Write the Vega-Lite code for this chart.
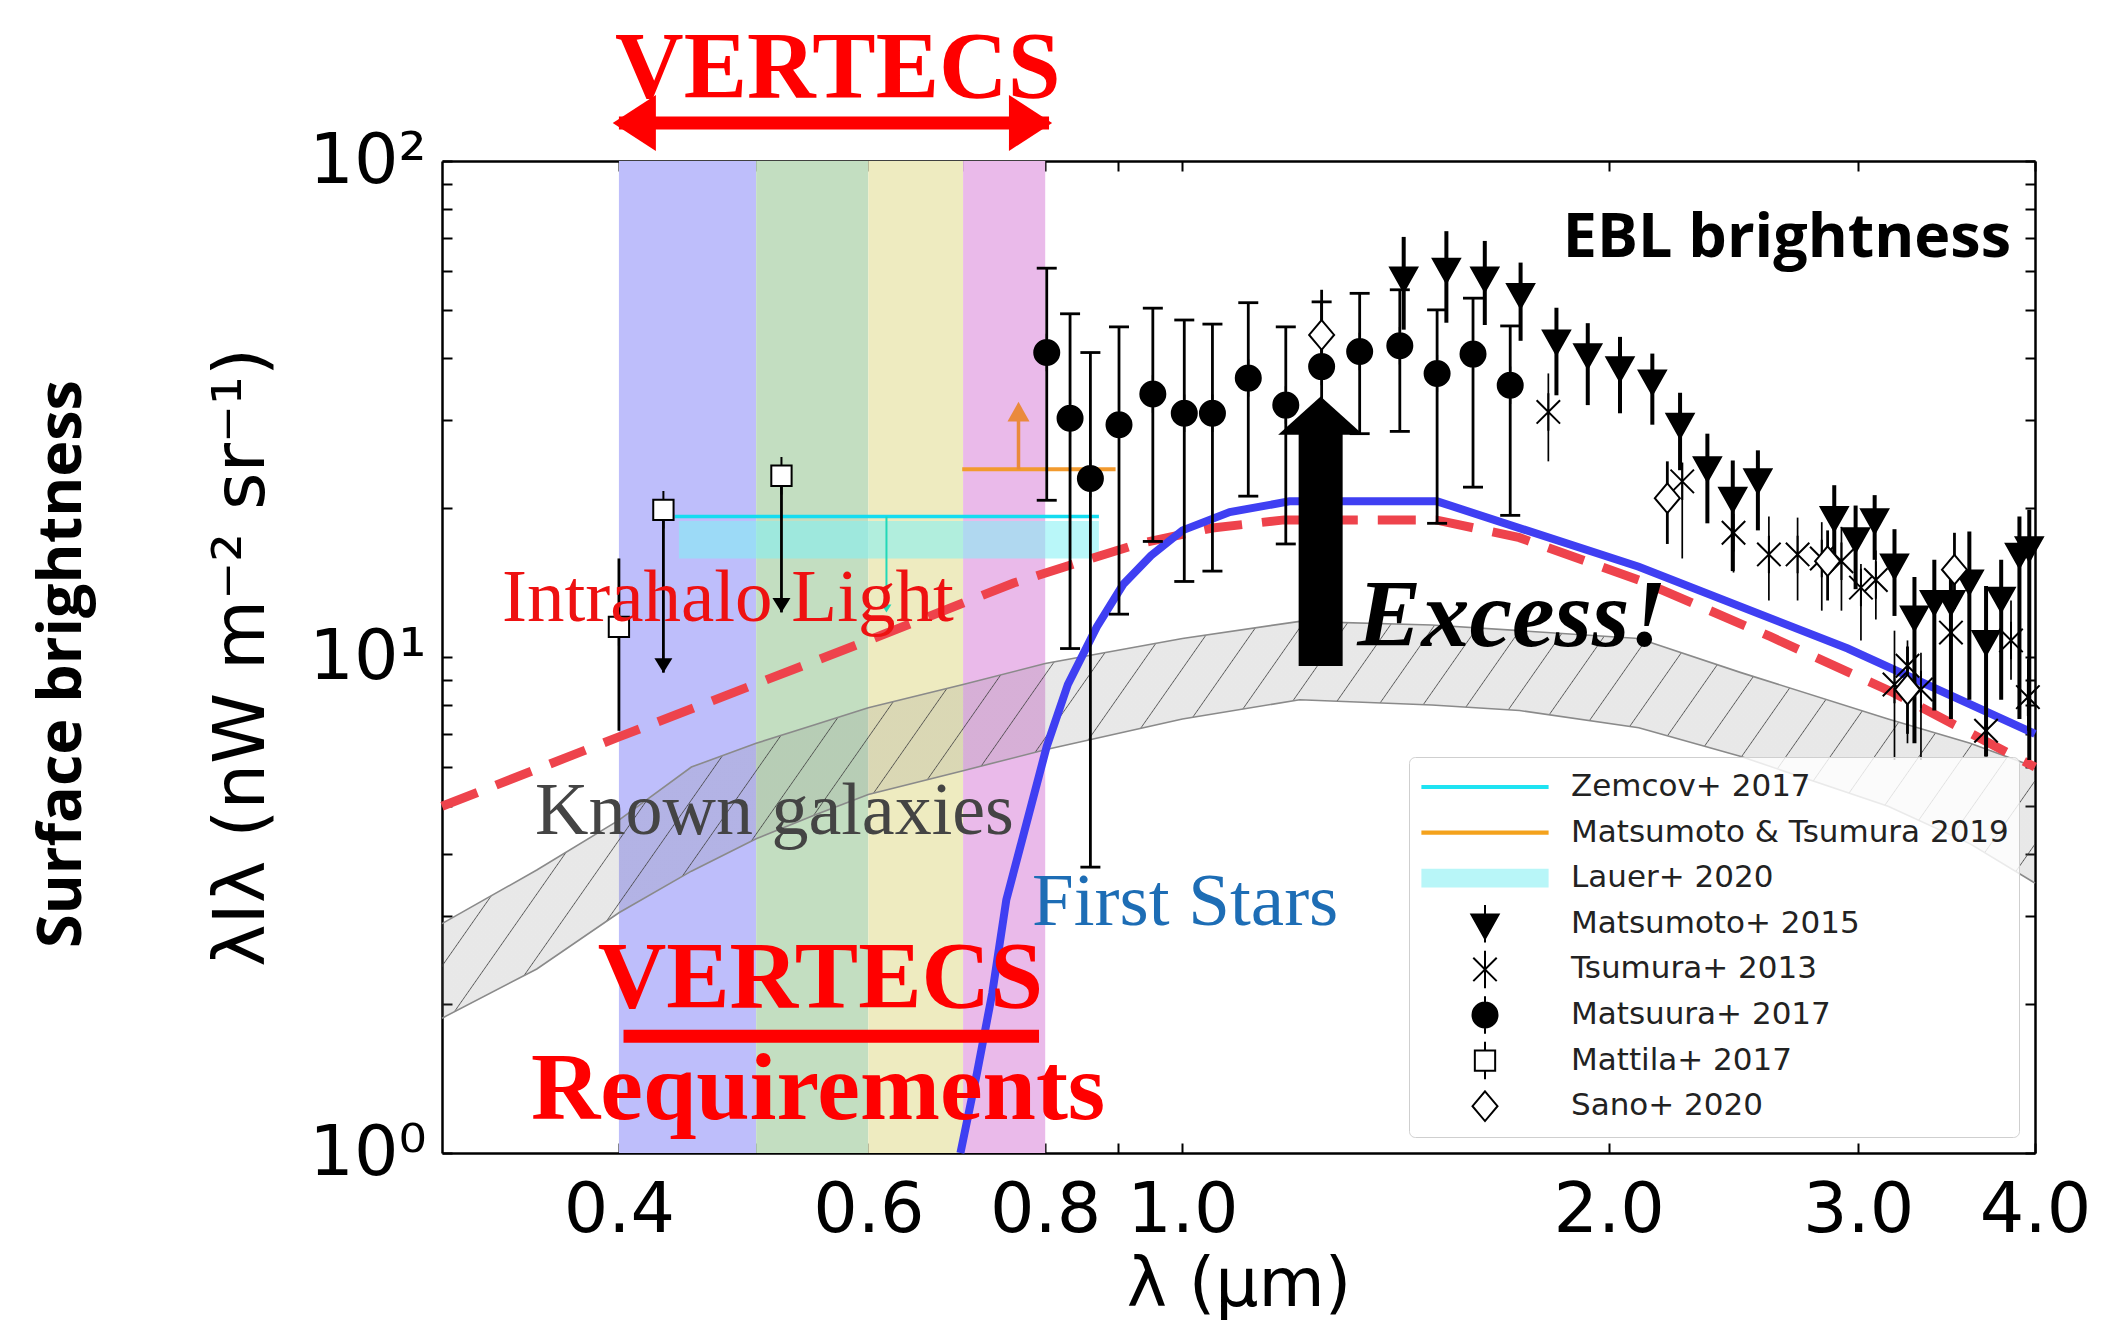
{
"$schema": "https://vega.github.io/schema/vega-lite/v6.json",
"width": 1593, "height": 992,
"autosize": {"type": "none"},
"padding": {"left": 442, "top": 161, "right": 67, "bottom": 175},
"background": "white",
"config": {
  "view": {"stroke": null},
  "axis": {"domainColor": "#000", "domainWidth": 2.5, "tickColor": "#000", "tickWidth": 2, "grid": false,
    "labelFont": "DejaVu Sans", "titleFont": "DejaVu Sans", "labelColor": "#000", "titleColor": "#000", "titleFontWeight": "normal"}
},
"datasets": {
  "bands": [
    {"b": "blue", "x1": 0.4, "x2": 0.5},
    {"b": "green", "x1": 0.5, "x2": 0.6},
    {"b": "yellow", "x1": 0.6, "x2": 0.7},
    {"b": "magenta", "x1": 0.7, "x2": 0.8}
  ],
  "gal": [
    {"lam": 0.30, "lo": 1.87, "hi": 2.9}, {"lam": 0.35, "lo": 2.35, "hi": 3.72}, {"lam": 0.40, "lo": 3.05, "hi": 4.69},
    {"lam": 0.45, "lo": 3.7, "hi": 6.0}, {"lam": 0.50, "lo": 4.3, "hi": 6.7}, {"lam": 0.55, "lo": 4.8, "hi": 7.3},
    {"lam": 0.60, "lo": 5.28, "hi": 7.9}, {"lam": 0.70, "lo": 5.9, "hi": 8.8}, {"lam": 0.80, "lo": 6.5, "hi": 9.7},
    {"lam": 1.00, "lo": 7.5, "hi": 10.9}, {"lam": 1.21, "lo": 8.2, "hi": 11.8}, {"lam": 1.50, "lo": 8.0, "hi": 11.6},
    {"lam": 1.73, "lo": 7.8, "hi": 11.3}, {"lam": 2.10, "lo": 7.2, "hi": 10.9}, {"lam": 2.48, "lo": 6.3, "hi": 9.3},
    {"lam": 3.15, "lo": 5.0, "hi": 7.5}, {"lam": 3.60, "lo": 4.2, "hi": 6.7}, {"lam": 4.00, "lo": 3.5, "hi": 6.0}
  ],
  "ihl": [
    {"lam": 0.30, "v": 5.0}, {"lam": 0.40, "v": 6.9}, {"lam": 0.60, "v": 10.8}, {"lam": 0.76, "v": 14.1},
    {"lam": 0.93, "v": 16.9}, {"lam": 1.05, "v": 18.2}, {"lam": 1.18, "v": 18.9}, {"lam": 1.51, "v": 18.9},
    {"lam": 1.73, "v": 17.4}, {"lam": 2.10, "v": 14.3}, {"lam": 2.60, "v": 11.0}, {"lam": 3.17, "v": 8.5}, {"lam": 4.00, "v": 6.0}
  ],
  "fstars": [
    {"lam": 0.697, "v": 1.0}, {"lam": 0.716, "v": 1.45}, {"lam": 0.734, "v": 2.1}, {"lam": 0.751, "v": 3.24},
    {"lam": 0.802, "v": 6.6}, {"lam": 0.83, "v": 8.8}, {"lam": 0.87, "v": 11.5}, {"lam": 0.908, "v": 14.0},
    {"lam": 0.95, "v": 16.0}, {"lam": 1.0, "v": 18.0}, {"lam": 1.08, "v": 19.6}, {"lam": 1.19, "v": 20.6},
    {"lam": 1.513, "v": 20.6}, {"lam": 2.1, "v": 15.2}, {"lam": 2.95, "v": 10.4}, {"lam": 4.0, "v": 7.0}
  ],
  "points": [
    {"series": "Matsuura+ 2017", "lam": 0.802, "v": 41.1, "lo": 20.7, "hi": 60.8},
    {"series": "Matsuura+ 2017", "lam": 0.833, "v": 30.3, "lo": 10.4, "hi": 49.2},
    {"series": "Matsuura+ 2017", "lam": 0.861, "v": 22.9, "lo": 3.77, "hi": 41.1},
    {"series": "Matsuura+ 2017", "lam": 0.902, "v": 29.4, "lo": 12.2, "hi": 46.3},
    {"series": "Matsuura+ 2017", "lam": 0.953, "v": 33.9, "lo": 17.1, "hi": 50.5},
    {"series": "Matsuura+ 2017", "lam": 1.003, "v": 31.0, "lo": 14.2, "hi": 47.8},
    {"series": "Matsuura+ 2017", "lam": 1.05, "v": 31.0, "lo": 14.9, "hi": 46.9},
    {"series": "Matsuura+ 2017", "lam": 1.113, "v": 36.5, "lo": 21.1, "hi": 51.8},
    {"series": "Matsuura+ 2017", "lam": 1.183, "v": 32.2, "lo": 16.9, "hi": 46.3},
    {"series": "Matsuura+ 2017", "lam": 1.254, "v": 38.5, "lo": 25.0, "hi": 52.0},
    {"series": "Matsuura+ 2017", "lam": 1.334, "v": 41.3, "lo": 28.2, "hi": 54.1},
    {"series": "Matsuura+ 2017", "lam": 1.424, "v": 42.4, "lo": 28.5, "hi": 55.0},
    {"series": "Matsuura+ 2017", "lam": 1.513, "v": 37.3, "lo": 18.6, "hi": 50.1},
    {"series": "Matsuura+ 2017", "lam": 1.604, "v": 40.8, "lo": 22.0, "hi": 52.9},
    {"series": "Matsuura+ 2017", "lam": 1.704, "v": 35.3, "lo": 19.3, "hi": 46.5},
    {"series": "Matsumoto+ 2015", "lam": 1.433, "v": 58.4, "lo": 45.7, "hi": 70.3},
    {"series": "Matsumoto+ 2015", "lam": 1.536, "v": 60.8, "lo": 47.2, "hi": 72.2},
    {"series": "Matsumoto+ 2015", "lam": 1.635, "v": 58.4, "lo": 46.7, "hi": 69.0},
    {"series": "Matsumoto+ 2015", "lam": 1.733, "v": 54.1, "lo": 43.4, "hi": 62.4},
    {"series": "Matsumoto+ 2015", "lam": 1.837, "v": 43.6, "lo": 33.7, "hi": 50.6},
    {"series": "Matsumoto+ 2015", "lam": 1.933, "v": 40.9, "lo": 32.2, "hi": 47.1},
    {"series": "Matsumoto+ 2015", "lam": 2.037, "v": 38.5, "lo": 31.0, "hi": 44.2},
    {"series": "Matsumoto+ 2015", "lam": 2.147, "v": 36.2, "lo": 29.4, "hi": 40.9},
    {"series": "Matsumoto+ 2015", "lam": 2.246, "v": 29.6, "lo": 23.8, "hi": 34.1},
    {"series": "Matsumoto+ 2015", "lam": 2.348, "v": 24.2, "lo": 18.6, "hi": 28.2},
    {"series": "Matsumoto+ 2015", "lam": 2.447, "v": 21.0, "lo": 14.9, "hi": 24.9},
    {"series": "Matsumoto+ 2015", "lam": 2.549, "v": 22.9, "lo": 18.0, "hi": 26.1},
    {"series": "Matsumoto+ 2015", "lam": 2.886, "v": 19.2, "lo": 15.7, "hi": 22.2},
    {"series": "Matsumoto+ 2015", "lam": 2.988, "v": 17.4, "lo": 13.7, "hi": 20.2},
    {"series": "Matsumoto+ 2015", "lam": 3.082, "v": 19.0, "lo": 15.7, "hi": 21.2},
    {"series": "Matsumoto+ 2015", "lam": 3.183, "v": 15.4, "lo": 12.1, "hi": 18.1},
    {"series": "Matsumoto+ 2015", "lam": 3.288, "v": 12.1, "lo": 6.7, "hi": 14.5},
    {"series": "Matsumoto+ 2015", "lam": 3.396, "v": 13.0, "lo": 7.8, "hi": 15.7},
    {"series": "Matsumoto+ 2015", "lam": 3.489, "v": 13.0, "lo": 7.5, "hi": 15.7},
    {"series": "Matsumoto+ 2015", "lam": 3.595, "v": 14.3, "lo": 8.2, "hi": 17.9},
    {"series": "Matsumoto+ 2015", "lam": 3.694, "v": 10.8, "lo": 6.3, "hi": 13.9},
    {"series": "Matsumoto+ 2015", "lam": 3.786, "v": 13.2, "lo": 8.2, "hi": 15.7},
    {"series": "Matsumoto+ 2015", "lam": 3.900, "v": 16.2, "lo": 7.5, "hi": 19.2},
    {"series": "Matsumoto+ 2015", "lam": 3.963, "v": 16.7, "lo": 6.2, "hi": 19.8},
    {"series": "Tsumura+ 2013", "lam": 1.813, "v": 31.2, "lo": 24.8, "hi": 37.3},
    {"series": "Tsumura+ 2013", "lam": 2.254, "v": 22.6, "lo": 15.8, "hi": 24.6},
    {"series": "Tsumura+ 2013", "lam": 2.450, "v": 17.8, "lo": 14.8, "hi": 20.1},
    {"series": "Tsumura+ 2013", "lam": 2.595, "v": 16.1, "lo": 13.0, "hi": 19.2},
    {"series": "Tsumura+ 2013", "lam": 2.719, "v": 16.1, "lo": 13.0, "hi": 19.1},
    {"series": "Tsumura+ 2013", "lam": 2.828, "v": 15.8, "lo": 12.4, "hi": 18.7},
    {"series": "Tsumura+ 2013", "lam": 2.920, "v": 15.6, "lo": 12.4, "hi": 18.3},
    {"series": "Tsumura+ 2013", "lam": 3.014, "v": 13.8, "lo": 10.8, "hi": 15.4},
    {"series": "Tsumura+ 2013", "lam": 3.088, "v": 14.3, "lo": 11.9, "hi": 16.4},
    {"series": "Tsumura+ 2013", "lam": 3.183, "v": 8.8, "lo": 6.2, "hi": 11.3},
    {"series": "Tsumura+ 2013", "lam": 3.251, "v": 9.6, "lo": 6.7, "hi": 10.8},
    {"series": "Tsumura+ 2013", "lam": 3.323, "v": 8.6, "lo": 6.2, "hi": 10.2},
    {"series": "Tsumura+ 2013", "lam": 3.489, "v": 11.2, "lo": 9.0, "hi": 13.0},
    {"series": "Tsumura+ 2013", "lam": 3.694, "v": 7.1, "lo": 6.3, "hi": 8.6},
    {"series": "Tsumura+ 2013", "lam": 3.847, "v": 10.8, "lo": 9.0, "hi": 13.0},
    {"series": "Tsumura+ 2013", "lam": 3.954, "v": 8.3, "lo": 7.1, "hi": 9.9},
    {"series": "Mattila+ 2017", "lam": 0.400, "v": 11.5, "lo": 7.1, "hi": 15.8},
    {"series": "Mattila+ 2017", "lam": 0.430, "v": 19.8, "lo": 9.3, "hi": 19.8},
    {"series": "Mattila+ 2017", "lam": 0.521, "v": 23.2, "lo": 12.3, "hi": 23.2},
    {"series": "Sano+ 2020", "lam": 1.254, "v": 44.6, "lo": 40.0, "hi": 55.0},
    {"series": "Sano+ 2020", "lam": 2.200, "v": 20.9, "lo": 16.9, "hi": 24.8},
    {"series": "Sano+ 2020", "lam": 2.855, "v": 15.6, "lo": 13.0, "hi": 18.0},
    {"series": "Sano+ 2020", "lam": 3.251, "v": 8.6, "lo": 7.0, "hi": 10.5},
    {"series": "Sano+ 2020", "lam": 3.509, "v": 15.0, "lo": 12.5, "hi": 17.8}
  ]
},
"resolve": {"axis": {"x": "independent", "y": "independent"}},
"layer": [
  {
    "data": {"name": "bands"},
    "mark": {"type": "rect"},
    "encoding": {
      "x": {"field": "x1", "type": "quantitative", "scale": {"type": "log", "domain": [0.3, 4], "nice": false},
        "axis": {"orient": "bottom", "values": [0.4, 0.5, 0.6, 0.7, 0.8, 0.9, 1, 2, 3, 4],
          "labelExpr": "(datum.value == 0.5 || datum.value == 0.7 || datum.value == 0.9) ? '' : format(datum.value, '.1f')",
          "labelFontSize": 70, "labelPadding": 33, "tickSize": -10, "labelOverlap": false, "labelFlush": false,
          "title": "λ (μm)", "titleFontSize": 68, "titlePadding": 6}},
      "x2": {"field": "x2"},
      "y": {"datum": 1, "type": "quantitative", "scale": {"type": "log", "domain": [1, 100], "nice": false},
        "axis": {"orient": "left", "values": [1, 2, 3, 4, 5, 6, 7, 8, 9, 10, 20, 30, 40, 50, 60, 70, 80, 90, 100],
          "labelExpr": "datum.value == 1 ? '10⁰' : datum.value == 10 ? '10¹' : datum.value == 100 ? '10²' : ''",
          "labelFontSize": 70, "labelPadding": 26, "tickSize": -10, "labelOverlap": false, "labelFlush": false,
          "title": "λIλ (nW m⁻² sr⁻¹)", "titleFontSize": 72, "titlePadding": 30}},
      "y2": {"datum": 100},
      "color": {"field": "b", "type": "nominal", "legend": null,
        "scale": {"domain": ["blue", "green", "yellow", "magenta"], "range": ["#bebefb", "#c3dec1", "#eeebc0", "#eabaea"]}}
    }
  },
  {
    "data": {"name": "gal"},
    "mark": {"type": "area", "opacity": 1, "color": {"gradient": "linear", "x1": 0, "y1": 0, "x2": 1.1397, "y2": 0.1989, "stops": [
      {"offset": 0, "color": "rgba(128,128,128,0.18)"},
      {"offset": 0.0100, "color": "rgba(128,128,128,0.18)"}, {"offset": 0.0106, "color": "rgba(50,50,50,0.8)"}, {"offset": 0.0112, "color": "rgba(128,128,128,0.18)"},
      {"offset": 0.0337, "color": "rgba(128,128,128,0.18)"}, {"offset": 0.0343, "color": "rgba(50,50,50,0.8)"}, {"offset": 0.0349, "color": "rgba(128,128,128,0.18)"},
      {"offset": 0.0574, "color": "rgba(128,128,128,0.18)"}, {"offset": 0.0580, "color": "rgba(50,50,50,0.8)"}, {"offset": 0.0586, "color": "rgba(128,128,128,0.18)"},
      {"offset": 0.0811, "color": "rgba(128,128,128,0.18)"}, {"offset": 0.0817, "color": "rgba(50,50,50,0.8)"}, {"offset": 0.0823, "color": "rgba(128,128,128,0.18)"},
      {"offset": 0.1048, "color": "rgba(128,128,128,0.18)"}, {"offset": 0.1054, "color": "rgba(50,50,50,0.8)"}, {"offset": 0.1060, "color": "rgba(128,128,128,0.18)"},
      {"offset": 0.1285, "color": "rgba(128,128,128,0.18)"}, {"offset": 0.1291, "color": "rgba(50,50,50,0.8)"}, {"offset": 0.1297, "color": "rgba(128,128,128,0.18)"},
      {"offset": 0.1522, "color": "rgba(128,128,128,0.18)"}, {"offset": 0.1528, "color": "rgba(50,50,50,0.8)"}, {"offset": 0.1534, "color": "rgba(128,128,128,0.18)"},
      {"offset": 0.1759, "color": "rgba(128,128,128,0.18)"}, {"offset": 0.1765, "color": "rgba(50,50,50,0.8)"}, {"offset": 0.1771, "color": "rgba(128,128,128,0.18)"},
      {"offset": 0.1996, "color": "rgba(128,128,128,0.18)"}, {"offset": 0.2002, "color": "rgba(50,50,50,0.8)"}, {"offset": 0.2008, "color": "rgba(128,128,128,0.18)"},
      {"offset": 0.2233, "color": "rgba(128,128,128,0.18)"}, {"offset": 0.2239, "color": "rgba(50,50,50,0.8)"}, {"offset": 0.2245, "color": "rgba(128,128,128,0.18)"},
      {"offset": 0.2470, "color": "rgba(128,128,128,0.18)"}, {"offset": 0.2476, "color": "rgba(50,50,50,0.8)"}, {"offset": 0.2482, "color": "rgba(128,128,128,0.18)"},
      {"offset": 0.2707, "color": "rgba(128,128,128,0.18)"}, {"offset": 0.2713, "color": "rgba(50,50,50,0.8)"}, {"offset": 0.2719, "color": "rgba(128,128,128,0.18)"},
      {"offset": 0.2944, "color": "rgba(128,128,128,0.18)"}, {"offset": 0.2950, "color": "rgba(50,50,50,0.8)"}, {"offset": 0.2956, "color": "rgba(128,128,128,0.18)"},
      {"offset": 0.3181, "color": "rgba(128,128,128,0.18)"}, {"offset": 0.3187, "color": "rgba(50,50,50,0.8)"}, {"offset": 0.3193, "color": "rgba(128,128,128,0.18)"},
      {"offset": 0.3418, "color": "rgba(128,128,128,0.18)"}, {"offset": 0.3424, "color": "rgba(50,50,50,0.8)"}, {"offset": 0.3430, "color": "rgba(128,128,128,0.18)"},
      {"offset": 0.3655, "color": "rgba(128,128,128,0.18)"}, {"offset": 0.3661, "color": "rgba(50,50,50,0.8)"}, {"offset": 0.3667, "color": "rgba(128,128,128,0.18)"},
      {"offset": 0.3892, "color": "rgba(128,128,128,0.18)"}, {"offset": 0.3898, "color": "rgba(50,50,50,0.8)"}, {"offset": 0.3904, "color": "rgba(128,128,128,0.18)"},
      {"offset": 0.4129, "color": "rgba(128,128,128,0.18)"}, {"offset": 0.4135, "color": "rgba(50,50,50,0.8)"}, {"offset": 0.4141, "color": "rgba(128,128,128,0.18)"},
      {"offset": 0.4366, "color": "rgba(128,128,128,0.18)"}, {"offset": 0.4372, "color": "rgba(50,50,50,0.8)"}, {"offset": 0.4378, "color": "rgba(128,128,128,0.18)"},
      {"offset": 0.4603, "color": "rgba(128,128,128,0.18)"}, {"offset": 0.4609, "color": "rgba(50,50,50,0.8)"}, {"offset": 0.4615, "color": "rgba(128,128,128,0.18)"},
      {"offset": 0.4840, "color": "rgba(128,128,128,0.18)"}, {"offset": 0.4846, "color": "rgba(50,50,50,0.8)"}, {"offset": 0.4852, "color": "rgba(128,128,128,0.18)"},
      {"offset": 0.5077, "color": "rgba(128,128,128,0.18)"}, {"offset": 0.5083, "color": "rgba(50,50,50,0.8)"}, {"offset": 0.5089, "color": "rgba(128,128,128,0.18)"},
      {"offset": 0.5314, "color": "rgba(128,128,128,0.18)"}, {"offset": 0.5320, "color": "rgba(50,50,50,0.8)"}, {"offset": 0.5326, "color": "rgba(128,128,128,0.18)"},
      {"offset": 0.5551, "color": "rgba(128,128,128,0.18)"}, {"offset": 0.5557, "color": "rgba(50,50,50,0.8)"}, {"offset": 0.5563, "color": "rgba(128,128,128,0.18)"},
      {"offset": 0.5788, "color": "rgba(128,128,128,0.18)"}, {"offset": 0.5794, "color": "rgba(50,50,50,0.8)"}, {"offset": 0.5800, "color": "rgba(128,128,128,0.18)"},
      {"offset": 0.6025, "color": "rgba(128,128,128,0.18)"}, {"offset": 0.6031, "color": "rgba(50,50,50,0.8)"}, {"offset": 0.6037, "color": "rgba(128,128,128,0.18)"},
      {"offset": 0.6262, "color": "rgba(128,128,128,0.18)"}, {"offset": 0.6268, "color": "rgba(50,50,50,0.8)"}, {"offset": 0.6274, "color": "rgba(128,128,128,0.18)"},
      {"offset": 0.6499, "color": "rgba(128,128,128,0.18)"}, {"offset": 0.6505, "color": "rgba(50,50,50,0.8)"}, {"offset": 0.6511, "color": "rgba(128,128,128,0.18)"},
      {"offset": 0.6736, "color": "rgba(128,128,128,0.18)"}, {"offset": 0.6742, "color": "rgba(50,50,50,0.8)"}, {"offset": 0.6748, "color": "rgba(128,128,128,0.18)"},
      {"offset": 0.6973, "color": "rgba(128,128,128,0.18)"}, {"offset": 0.6979, "color": "rgba(50,50,50,0.8)"}, {"offset": 0.6985, "color": "rgba(128,128,128,0.18)"},
      {"offset": 0.7210, "color": "rgba(128,128,128,0.18)"}, {"offset": 0.7216, "color": "rgba(50,50,50,0.8)"}, {"offset": 0.7222, "color": "rgba(128,128,128,0.18)"},
      {"offset": 0.7447, "color": "rgba(128,128,128,0.18)"}, {"offset": 0.7453, "color": "rgba(50,50,50,0.8)"}, {"offset": 0.7459, "color": "rgba(128,128,128,0.18)"},
      {"offset": 0.7684, "color": "rgba(128,128,128,0.18)"}, {"offset": 0.7690, "color": "rgba(50,50,50,0.8)"}, {"offset": 0.7696, "color": "rgba(128,128,128,0.18)"},
      {"offset": 0.7921, "color": "rgba(128,128,128,0.18)"}, {"offset": 0.7927, "color": "rgba(50,50,50,0.8)"}, {"offset": 0.7933, "color": "rgba(128,128,128,0.18)"},
      {"offset": 0.8158, "color": "rgba(128,128,128,0.18)"}, {"offset": 0.8164, "color": "rgba(50,50,50,0.8)"}, {"offset": 0.8170, "color": "rgba(128,128,128,0.18)"},
      {"offset": 0.8395, "color": "rgba(128,128,128,0.18)"}, {"offset": 0.8401, "color": "rgba(50,50,50,0.8)"}, {"offset": 0.8407, "color": "rgba(128,128,128,0.18)"},
      {"offset": 0.8632, "color": "rgba(128,128,128,0.18)"}, {"offset": 0.8638, "color": "rgba(50,50,50,0.8)"}, {"offset": 0.8644, "color": "rgba(128,128,128,0.18)"},
      {"offset": 0.8869, "color": "rgba(128,128,128,0.18)"}, {"offset": 0.8875, "color": "rgba(50,50,50,0.8)"}, {"offset": 0.8881, "color": "rgba(128,128,128,0.18)"},
      {"offset": 0.9106, "color": "rgba(128,128,128,0.18)"}, {"offset": 0.9112, "color": "rgba(50,50,50,0.8)"}, {"offset": 0.9118, "color": "rgba(128,128,128,0.18)"},
      {"offset": 0.9343, "color": "rgba(128,128,128,0.18)"}, {"offset": 0.9349, "color": "rgba(50,50,50,0.8)"}, {"offset": 0.9355, "color": "rgba(128,128,128,0.18)"},
      {"offset": 0.9580, "color": "rgba(128,128,128,0.18)"}, {"offset": 0.9586, "color": "rgba(50,50,50,0.8)"}, {"offset": 0.9592, "color": "rgba(128,128,128,0.18)"},
      {"offset": 0.9817, "color": "rgba(128,128,128,0.18)"}, {"offset": 0.9823, "color": "rgba(50,50,50,0.8)"}, {"offset": 0.9829, "color": "rgba(128,128,128,0.18)"},
      {"offset": 1, "color": "rgba(128,128,128,0.18)"}
    ]}},
    "encoding": {
      "x": {"field": "lam", "type": "quantitative", "scale": {"type": "log", "domain": [0.3, 4], "nice": false},
        "axis": {"orient": "top", "values": [0.4, 0.5, 0.6, 0.7, 0.8, 0.9, 1, 2, 3, 4], "labels": false, "tickSize": -10, "title": null}},
      "y": {"field": "hi", "type": "quantitative", "scale": {"type": "log", "domain": [1, 100], "nice": false},
        "axis": {"orient": "right", "values": [1, 2, 3, 4, 5, 6, 7, 8, 9, 10, 20, 30, 40, 50, 60, 70, 80, 90, 100], "labels": false, "tickSize": -10, "title": null}},
      "y2": {"field": "lo"}
    }
  },
  {
    "data": {"name": "gal"},
    "mark": {"type": "line", "color": "#8a8a8a", "strokeWidth": 1.6},
    "encoding": {
      "x": {"field": "lam", "type": "quantitative", "scale": {"type": "log", "domain": [0.3, 4], "nice": false}, "axis": null},
      "y": {"field": "hi", "type": "quantitative", "scale": {"type": "log", "domain": [1, 100], "nice": false}, "axis": null}
    }
  },
  {
    "data": {"name": "gal"},
    "mark": {"type": "line", "color": "#8a8a8a", "strokeWidth": 1.6},
    "encoding": {
      "x": {"field": "lam", "type": "quantitative", "scale": {"type": "log", "domain": [0.3, 4], "nice": false}, "axis": null},
      "y": {"field": "lo", "type": "quantitative", "scale": {"type": "log", "domain": [1, 100], "nice": false}, "axis": null}
    }
  },
  {
    "data": {"values": [{"x1": 0.441, "x2": 0.873, "lo": 15.8, "hi": 18.8}]},
    "mark": {"type": "rect", "color": "#7ff0f4", "opacity": 0.55},
    "encoding": {
      "x": {"field": "x1", "type": "quantitative", "scale": {"type": "log", "domain": [0.3, 4], "nice": false}, "axis": null},
      "x2": {"field": "x2"},
      "y": {"field": "lo", "type": "quantitative", "scale": {"type": "log", "domain": [1, 100], "nice": false}, "axis": null},
      "y2": {"field": "hi"}
    }
  },
  {
    "data": {"values": [{"x1": 0.438, "x2": 0.873, "v": 19.2}]},
    "mark": {"type": "rule", "color": "#14dcf0", "strokeWidth": 3.5},
    "encoding": {
      "x": {"field": "x1", "type": "quantitative", "scale": {"type": "log", "domain": [0.3, 4], "nice": false}, "axis": null},
      "x2": {"field": "x2"},
      "y": {"field": "v", "type": "quantitative", "scale": {"type": "log", "domain": [1, 100], "nice": false}, "axis": null}
    }
  },
  {
    "data": {"values": [{"lam": 0.618, "lo": 12.8, "hi": 19.2}]},
    "mark": {"type": "rule", "color": "#22d8b8", "strokeWidth": 2},
    "encoding": {
      "x": {"field": "lam", "type": "quantitative", "scale": {"type": "log", "domain": [0.3, 4], "nice": false}, "axis": null},
      "y": {"field": "lo", "type": "quantitative", "scale": {"type": "log", "domain": [1, 100], "nice": false}, "axis": null},
      "y2": {"field": "hi"}
    }
  },
  {
    "data": {"values": [{"lam": 0.618, "v": 12.3}]},
    "mark": {"type": "point", "shape": "M0,0L-1,-1.6L1,-1.6Z", "size": 100, "filled": true, "color": "#22d8b8", "opacity": 1},
    "encoding": {
      "x": {"field": "lam", "type": "quantitative", "scale": {"type": "log", "domain": [0.3, 4], "nice": false}, "axis": null},
      "y": {"field": "v", "type": "quantitative", "scale": {"type": "log", "domain": [1, 100], "nice": false}, "axis": null}
    }
  },
  {
    "data": {"values": [{"x1": 0.699, "x2": 0.897, "v": 23.9}]},
    "mark": {"type": "rule", "color": "#f29a2e", "strokeWidth": 4},
    "encoding": {
      "x": {"field": "x1", "type": "quantitative", "scale": {"type": "log", "domain": [0.3, 4], "nice": false}, "axis": null},
      "x2": {"field": "x2"},
      "y": {"field": "v", "type": "quantitative", "scale": {"type": "log", "domain": [1, 100], "nice": false}, "axis": null}
    }
  },
  {
    "data": {"values": [{"lam": 0.766, "lo": 23.9, "hi": 30.5}]},
    "mark": {"type": "rule", "color": "#ea8a3c", "strokeWidth": 3.5},
    "encoding": {
      "x": {"field": "lam", "type": "quantitative", "scale": {"type": "log", "domain": [0.3, 4], "nice": false}, "axis": null},
      "y": {"field": "lo", "type": "quantitative", "scale": {"type": "log", "domain": [1, 100], "nice": false}, "axis": null},
      "y2": {"field": "hi"}
    }
  },
  {
    "data": {"values": [{"lam": 0.766, "v": 32.7}]},
    "mark": {"type": "point", "shape": "M0,0L-1,1.8L1,1.8Z", "size": 484, "filled": true, "color": "#ea8a3c", "opacity": 1},
    "encoding": {
      "x": {"field": "lam", "type": "quantitative", "scale": {"type": "log", "domain": [0.3, 4], "nice": false}, "axis": null},
      "y": {"field": "v", "type": "quantitative", "scale": {"type": "log", "domain": [1, 100], "nice": false}, "axis": null}
    }
  },
  {
    "data": {"name": "ihl"},
    "mark": {"type": "line", "color": "#ee434c", "strokeWidth": 9, "strokeDash": [38, 20]},
    "encoding": {
      "x": {"field": "lam", "type": "quantitative", "scale": {"type": "log", "domain": [0.3, 4], "nice": false}, "axis": null},
      "y": {"field": "v", "type": "quantitative", "scale": {"type": "log", "domain": [1, 100], "nice": false}, "axis": null}
    }
  },
  {
    "data": {"name": "fstars"},
    "mark": {"type": "line", "color": "#3f3ff2", "strokeWidth": 8},
    "encoding": {
      "x": {"field": "lam", "type": "quantitative", "scale": {"type": "log", "domain": [0.3, 4], "nice": false}, "axis": null},
      "y": {"field": "v", "type": "quantitative", "scale": {"type": "log", "domain": [1, 100], "nice": false}, "axis": null}
    }
  },
  {
    "data": {"name": "points"},
    "transform": [{"filter": {"field": "series", "equal": "Tsumura+ 2013"}}],
    "mark": {"type": "rule", "color": "black", "strokeWidth": 1.7},
    "encoding": {
      "x": {"field": "lam", "type": "quantitative", "scale": {"type": "log", "domain": [0.3, 4], "nice": false}, "axis": null},
      "y": {"field": "lo", "type": "quantitative", "scale": {"type": "log", "domain": [1, 100], "nice": false}, "axis": null},
      "y2": {"field": "hi"}
    }
  },
  {
    "data": {"name": "points"},
    "transform": [{"filter": {"field": "series", "equal": "Matsumoto+ 2015"}}],
    "mark": {"type": "rule", "color": "black", "strokeWidth": 4},
    "encoding": {
      "x": {"field": "lam", "type": "quantitative", "scale": {"type": "log", "domain": [0.3, 4], "nice": false}, "axis": null},
      "y": {"field": "lo", "type": "quantitative", "scale": {"type": "log", "domain": [1, 100], "nice": false}, "axis": null},
      "y2": {"field": "hi"}
    }
  },
  {
    "data": {"name": "points"},
    "transform": [{"filter": {"field": "series", "oneOf": ["Matsuura+ 2017", "Mattila+ 2017", "Sano+ 2020"]}}],
    "mark": {"type": "rule", "color": "black", "strokeWidth": 2.8},
    "encoding": {
      "x": {"field": "lam", "type": "quantitative", "scale": {"type": "log", "domain": [0.3, 4], "nice": false}, "axis": null},
      "y": {"field": "lo", "type": "quantitative", "scale": {"type": "log", "domain": [1, 100], "nice": false}, "axis": null},
      "y2": {"field": "hi"}
    }
  },
  {
    "data": {"name": "points"},
    "transform": [{"filter": {"field": "series", "equal": "Matsuura+ 2017"}}],
    "mark": {"type": "point", "shape": "stroke", "size": 400, "filled": false, "color": "black", "strokeWidth": 2.8, "opacity": 1},
    "encoding": {
      "x": {"field": "lam", "type": "quantitative", "scale": {"type": "log", "domain": [0.3, 4], "nice": false}, "axis": null},
      "y": {"field": "hi", "type": "quantitative", "scale": {"type": "log", "domain": [1, 100], "nice": false}, "axis": null}
    }
  },
  {
    "data": {"name": "points"},
    "transform": [{"filter": {"field": "series", "equal": "Matsuura+ 2017"}}],
    "mark": {"type": "point", "shape": "stroke", "size": 400, "filled": false, "color": "black", "strokeWidth": 2.8, "opacity": 1},
    "encoding": {
      "x": {"field": "lam", "type": "quantitative", "scale": {"type": "log", "domain": [0.3, 4], "nice": false}, "axis": null},
      "y": {"field": "lo", "type": "quantitative", "scale": {"type": "log", "domain": [1, 100], "nice": false}, "axis": null}
    }
  },
  {
    "data": {"values": [{"lam": 0.430, "v": 9.3}, {"lam": 0.521, "v": 12.3}]},
    "mark": {"type": "point", "shape": "M0,0L-1,-1.6L1,-1.6Z", "size": 324, "filled": true, "color": "black", "opacity": 1},
    "encoding": {
      "x": {"field": "lam", "type": "quantitative", "scale": {"type": "log", "domain": [0.3, 4], "nice": false}, "axis": null},
      "y": {"field": "v", "type": "quantitative", "scale": {"type": "log", "domain": [1, 100], "nice": false}, "axis": null}
    }
  },
  {
    "data": {"name": "points"},
    "mark": {"type": "point", "size": 977, "strokeWidth": 2, "opacity": 1},
    "encoding": {
      "x": {"field": "lam", "type": "quantitative", "scale": {"type": "log", "domain": [0.3, 4], "nice": false}, "axis": null},
      "y": {"field": "v", "type": "quantitative", "scale": {"type": "log", "domain": [1, 100], "nice": false}, "axis": null},
      "shape": {"field": "series", "type": "nominal",
        "scale": {"domain": ["Zemcov+ 2017", "Matsumoto & Tsumura 2019", "Lauer+ 2020", "Matsumoto+ 2015", "Tsumura+ 2013", "Matsuura+ 2017", "Mattila+ 2017", "Sano+ 2020"],
          "range": ["M-4.07,-0.13H4.07V0.13H-4.07Z", "M-4.07,-0.13H4.07V0.13H-4.07Z", "M-4.07,-0.6H4.07V0.6H-4.07Z",
            "M-0.87,-0.6L0.87,-0.6L0,0.95Z M0,-1.2V0M0,0.95V1.2", "M-0.75,-0.75L0.75,0.75M-0.75,0.75L0.75,-0.75M0,-1.2V1.2",
            "M-0.8,0A0.8,0.8,0,1,0,0.8,0A0.8,0.8,0,1,0,-0.8,0Z M0,-1.2V1.2", "M-0.65,-0.65H0.65V0.65H-0.65Z M0,-1.2V-0.65M0,0.65V1.2",
            "M0,-0.95L0.8,0L0,0.95L-0.8,0Z"]},
        "legend": {"title": null, "orient": "bottom-right", "offset": 16, "padding": 10, "fillColor": "rgba(255,255,255,0.82)", "strokeColor": "#cfcfcf", "cornerRadius": 6,
          "labelFont": "DejaVu Sans", "labelFontSize": 31, "labelColor": "#222222", "labelLimit": 700, "symbolSize": 977, "symbolStrokeWidth": 2,
          "symbolOffset": 49, "labelOffset": 69, "rowPadding": 5.6, "clipHeight": 40, "symbolOpacity": 1}},
      "fill": {"field": "series", "type": "nominal",
        "scale": {"domain": ["Zemcov+ 2017", "Matsumoto & Tsumura 2019", "Lauer+ 2020", "Matsumoto+ 2015", "Tsumura+ 2013", "Matsuura+ 2017", "Mattila+ 2017", "Sano+ 2020"],
          "range": ["#1ee3f2", "#f4a21c", "#b8f6f8", "#000000", "transparent", "#000000", "#ffffff", "#ffffff"]},
        "legend": {"title": null, "orient": "bottom-right", "offset": 16, "padding": 10, "fillColor": "rgba(255,255,255,0.82)", "strokeColor": "#cfcfcf", "cornerRadius": 6,
          "labelFont": "DejaVu Sans", "labelFontSize": 31, "labelColor": "#222222", "labelLimit": 700, "symbolSize": 977, "symbolStrokeWidth": 2,
          "symbolOffset": 49, "labelOffset": 69, "rowPadding": 5.6, "clipHeight": 40, "symbolOpacity": 1}},
      "stroke": {"field": "series", "type": "nominal",
        "scale": {"domain": ["Zemcov+ 2017", "Matsumoto & Tsumura 2019", "Lauer+ 2020", "Matsumoto+ 2015", "Tsumura+ 2013", "Matsuura+ 2017", "Mattila+ 2017", "Sano+ 2020"],
          "range": ["transparent", "transparent", "transparent", "#000000", "#000000", "#000000", "#000000", "#000000"]},
        "legend": {"title": null, "orient": "bottom-right", "offset": 16, "padding": 10, "fillColor": "rgba(255,255,255,0.82)", "strokeColor": "#cfcfcf", "cornerRadius": 6,
          "labelFont": "DejaVu Sans", "labelFontSize": 31, "labelColor": "#222222", "labelLimit": 700, "symbolSize": 977, "symbolStrokeWidth": 2,
          "symbolOffset": 49, "labelOffset": 69, "rowPadding": 5.6, "clipHeight": 40, "symbolOpacity": 1}}
    }
  },
  {
    "data": {"values": [{"lam": 1.252, "lo": 9.59, "hi": 30.0}]},
    "mark": {"type": "rule", "color": "black", "strokeWidth": 44},
    "encoding": {
      "x": {"field": "lam", "type": "quantitative", "scale": {"type": "log", "domain": [0.3, 4], "nice": false}, "axis": null},
      "y": {"field": "lo", "type": "quantitative", "scale": {"type": "log", "domain": [1, 100], "nice": false}, "axis": null},
      "y2": {"field": "hi"}
    }
  },
  {
    "data": {"values": [{"lam": 1.252, "v": 33.5}]},
    "mark": {"type": "point", "shape": "M0,0L1,0.9L-1,0.9Z", "size": 7225, "filled": true, "color": "black", "opacity": 1},
    "encoding": {
      "x": {"field": "lam", "type": "quantitative", "scale": {"type": "log", "domain": [0.3, 4], "nice": false}, "axis": null},
      "y": {"field": "v", "type": "quantitative", "scale": {"type": "log", "domain": [1, 100], "nice": false}, "axis": null}
    }
  },
  {
    "data": {"values": [{"x1": 0.40, "x2": 0.805, "v": 119.3}]},
    "mark": {"type": "rule", "color": "#ff0000", "strokeWidth": 13},
    "encoding": {
      "x": {"field": "x1", "type": "quantitative", "scale": {"type": "log", "domain": [0.3, 4], "nice": false}, "axis": null},
      "x2": {"field": "x2"},
      "y": {"field": "v", "type": "quantitative", "scale": {"type": "log", "domain": [1, 100], "nice": false}, "axis": null}
    }
  },
  {
    "data": {"values": [{"lam": 0.396, "v": 119.3}]},
    "mark": {"type": "point", "shape": "M0,0L1.54,-1L1.54,1Z", "size": 3136, "filled": true, "color": "#ff0000", "opacity": 1},
    "encoding": {
      "x": {"field": "lam", "type": "quantitative", "scale": {"type": "log", "domain": [0.3, 4], "nice": false}, "axis": null},
      "y": {"field": "v", "type": "quantitative", "scale": {"type": "log", "domain": [1, 100], "nice": false}, "axis": null}
    }
  },
  {
    "data": {"values": [{"lam": 0.809, "v": 119.3}]},
    "mark": {"type": "point", "shape": "M0,0L-1.54,-1L-1.54,1Z", "size": 3136, "filled": true, "color": "#ff0000", "opacity": 1},
    "encoding": {
      "x": {"field": "lam", "type": "quantitative", "scale": {"type": "log", "domain": [0.3, 4], "nice": false}, "axis": null},
      "y": {"field": "v", "type": "quantitative", "scale": {"type": "log", "domain": [1, 100], "nice": false}, "axis": null}
    }
  },
  {
    "data": {"values": [{"x1": 0.403, "x2": 0.792, "v": 1.72}]},
    "mark": {"type": "rule", "color": "#ff0000", "strokeWidth": 13},
    "encoding": {
      "x": {"field": "x1", "type": "quantitative", "scale": {"type": "log", "domain": [0.3, 4], "nice": false}, "axis": null},
      "x2": {"field": "x2"},
      "y": {"field": "v", "type": "quantitative", "scale": {"type": "log", "domain": [1, 100], "nice": false}, "axis": null}
    }
  },
  {
    "data": {"values": [{"lam": 0.571, "v": 134, "t": "VERTECS"}, {"lam": 0.555, "v": 1.96, "t": "VERTECS"}]},
    "mark": {"type": "text", "font": "Liberation Serif", "fontWeight": "bold", "fontSize": 95, "color": "#ff0000", "align": "center", "baseline": "alphabetic"},
    "encoding": {
      "x": {"field": "lam", "type": "quantitative", "scale": {"type": "log", "domain": [0.3, 4], "nice": false}, "axis": null},
      "y": {"field": "v", "type": "quantitative", "scale": {"type": "log", "domain": [1, 100], "nice": false}, "axis": null},
      "text": {"field": "t"}
    }
  },
  {
    "data": {"values": [{"lam": 0.553, "v": 1.17, "t": "Requirements"}]},
    "mark": {"type": "text", "font": "Liberation Serif", "fontWeight": "bold", "fontSize": 96, "color": "#ff0000", "align": "center", "baseline": "alphabetic"},
    "encoding": {
      "x": {"field": "lam", "type": "quantitative", "scale": {"type": "log", "domain": [0.3, 4], "nice": false}, "axis": null},
      "y": {"field": "v", "type": "quantitative", "scale": {"type": "log", "domain": [1, 100], "nice": false}, "axis": null},
      "text": {"field": "t"}
    }
  },
  {
    "data": {"values": [{"lam": 0.3307, "v": 11.84, "t": "Intrahalo Light"}]},
    "mark": {"type": "text", "font": "Liberation Serif", "fontSize": 75, "color": "#ee1111", "align": "left", "baseline": "alphabetic"},
    "encoding": {
      "x": {"field": "lam", "type": "quantitative", "scale": {"type": "log", "domain": [0.3, 4], "nice": false}, "axis": null},
      "y": {"field": "v", "type": "quantitative", "scale": {"type": "log", "domain": [1, 100], "nice": false}, "axis": null},
      "text": {"field": "t"}
    }
  },
  {
    "data": {"values": [{"lam": 0.349, "v": 4.40, "t": "Known galaxies"}]},
    "mark": {"type": "text", "font": "Liberation Serif", "fontSize": 74, "color": "#444444", "align": "left", "baseline": "alphabetic"},
    "encoding": {
      "x": {"field": "lam", "type": "quantitative", "scale": {"type": "log", "domain": [0.3, 4], "nice": false}, "axis": null},
      "y": {"field": "v", "type": "quantitative", "scale": {"type": "log", "domain": [1, 100], "nice": false}, "axis": null},
      "text": {"field": "t"}
    }
  },
  {
    "data": {"values": [{"lam": 0.783, "v": 2.88, "t": "First Stars"}]},
    "mark": {"type": "text", "font": "Liberation Serif", "fontSize": 75, "color": "#1d6db5", "align": "left", "baseline": "alphabetic"},
    "encoding": {
      "x": {"field": "lam", "type": "quantitative", "scale": {"type": "log", "domain": [0.3, 4], "nice": false}, "axis": null},
      "y": {"field": "v", "type": "quantitative", "scale": {"type": "log", "domain": [1, 100], "nice": false}, "axis": null},
      "text": {"field": "t"}
    }
  },
  {
    "data": {"values": [{"lam": 1.329, "v": 10.5, "t": "Excess!"}]},
    "mark": {"type": "text", "font": "Liberation Serif", "fontSize": 96, "fontWeight": "bold", "fontStyle": "italic", "color": "#000000", "align": "left", "baseline": "alphabetic"},
    "encoding": {
      "x": {"field": "lam", "type": "quantitative", "scale": {"type": "log", "domain": [0.3, 4], "nice": false}, "axis": null},
      "y": {"field": "v", "type": "quantitative", "scale": {"type": "log", "domain": [1, 100], "nice": false}, "axis": null},
      "text": {"field": "t"}
    }
  },
  {
    "data": {"values": [{"lam": 3.847, "v": 64.0, "t": "EBL brightness"}]},
    "mark": {"type": "text", "font": "Open Sans", "fontSize": 61, "fontWeight": "bold", "color": "#000000", "align": "right", "baseline": "alphabetic"},
    "encoding": {
      "x": {"field": "lam", "type": "quantitative", "scale": {"type": "log", "domain": [0.3, 4], "nice": false}, "axis": null},
      "y": {"field": "v", "type": "quantitative", "scale": {"type": "log", "domain": [1, 100], "nice": false}, "axis": null},
      "text": {"field": "t"}
    }
  },
  {
    "data": {"values": [{"lam": 0.162, "v": 9.68, "t": "Surface brightness"}]},
    "mark": {"type": "text", "font": "Open Sans", "fontSize": 61, "fontWeight": "bold", "color": "#000000", "align": "center", "baseline": "middle", "angle": 270},
    "encoding": {
      "x": {"field": "lam", "type": "quantitative", "scale": {"type": "log", "domain": [0.3, 4], "nice": false}, "axis": null},
      "y": {"field": "v", "type": "quantitative", "scale": {"type": "log", "domain": [1, 100], "nice": false}, "axis": null},
      "text": {"field": "t"}
    }
  }
]
}
